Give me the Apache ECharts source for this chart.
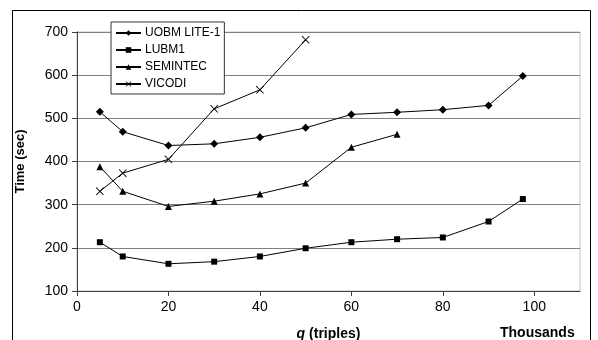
<!DOCTYPE html>
<html><head><meta charset="utf-8">
<script src="https://cdn.jsdelivr.net/npm/echarts@6/dist/echarts.min.js"></script>
<style>html,body{margin:0;padding:0;background:#fff}#c{width:598px;height:340px}</style>
</head><body><div id="c"></div>
<script>
const seriesNames = ['UOBM LITE-1', 'LUBM1', 'SEMINTEC', 'VICODI'];
const xUOBM = [5, 10, 20, 30, 40, 50, 60, 70, 80, 90, 97.5];
const yUOBM = [515, 469, 437, 441, 456, 478, 509, 514, 520, 530, 598];
const xLUBM = [5, 10, 20, 30, 40, 50, 60, 70, 80, 90, 97.5];
const yLUBM = [213, 180, 163, 168, 180, 199, 213, 220, 224, 261, 313];
const xSEM = [5, 10, 20, 30, 40, 50, 60, 70];
const ySEM = [388, 331, 296, 308, 325, 350, 433, 463];
const xVIC = [5, 10, 20, 30, 40, 50];
const yVIC = [331, 373, 405, 522, 566, 682];
const xTicks = [0, 20, 40, 60, 80, 100];
const yTicks = [100, 200, 300, 400, 500, 600, 700];

const pair = (xs, ys) => xs.map((x, i) => [x, ys[i]]);
const crossPath = 'path://M0,0.8L0.8,0L5,4.2L9.2,0L10,0.8L5.8,5L10,9.2L9.2,10L5,5.8L0.8,10L0,9.2L4.2,5Z';
const symbols = ['diamond', 'rect', 'triangle', crossPath];
const sizes = [8, 6, 7, 8];
const datas = [pair(xUOBM, yUOBM), pair(xLUBM, yLUBM), pair(xSEM, ySEM), pair(xVIC, yVIC)];
const FONT = 'Liberation Sans, Arial, sans-serif';

const chart = echarts.init(document.getElementById('c'), null, {renderer: 'canvas'});
chart.setOption({
  animation: false,
  backgroundColor: '#fff',
  textStyle: {fontFamily: FONT},
  grid: {left: 77, right: 18, top: 32, bottom: 49, show: true, borderColor: '#c0c0c0', borderWidth: 1, backgroundColor: '#fff', containLabel: false, outerBoundsMode: 'none'},
  graphic: [
    {type: 'rect', shape: {x: 12.5, y: 10.5, width: 578, height: 340}, style: {fill: null, stroke: '#000', lineWidth: 1}, silent: true, z: 0},
    {type: 'text', style: {x: 500, y: 326, text: 'Thousands', font: 'bold 14px ' + FONT, fill: '#000'}, z: 10}
  ],
  legend: {
    orient: 'vertical', left: 111, top: 22,
    data: seriesNames,
    itemWidth: 25, itemHeight: 7, itemGap: 5,
    padding: [5, 4, 4, 4],
    backgroundColor: '#fff', borderColor: '#333', borderWidth: 1,
    textStyle: {fontSize: 12, color: '#000', fontFamily: FONT, padding: [0, 0, 0, -1]},
    z: 10
  },
  xAxis: {
    type: 'value', min: 0, max: 110, interval: 10,
    name: '{i|q} (triples)', nameLocation: 'middle', nameGap: 36,
    nameTextStyle: {fontSize: 14, fontWeight: 'bold', color: '#000', rich: {i: {fontStyle: 'italic', fontWeight: 'bold', fontSize: 14}}},
    axisLine: {show: true, lineStyle: {color: '#404040', width: 1}},
    axisTick: {show: true, length: 5, inside: false, customValues: xTicks, lineStyle: {color: '#404040'}},
    axisLabel: {customValues: xTicks, fontSize: 14, color: '#000', margin: 9},
    splitLine: {show: false}
  },
  yAxis: {
    type: 'value', min: 100, max: 700, interval: 100,
    name: 'Time (sec)', nameLocation: 'middle', nameGap: 50,
    nameTextStyle: {fontSize: 13, fontWeight: 'bold', color: '#000'},
    axisLine: {show: true, lineStyle: {color: '#404040', width: 1}},
    axisTick: {show: true, length: 5, lineStyle: {color: '#404040'}},
    axisLabel: {fontSize: 14, color: '#000', margin: 9, customValues: yTicks},
    splitLine: {show: true, lineStyle: {color: '#808080', width: 1}}
  },
  series: seriesNames.map((n, i) => ({
    name: n, type: 'line', data: datas[i],
    symbol: symbols[i], symbolSize: sizes[i], showSymbol: true,
    lineStyle: {color: '#000', width: 1},
    itemStyle: {color: '#000', borderWidth: 0},
    emphasis: {disabled: true}
  }))
});
</script></body></html>
